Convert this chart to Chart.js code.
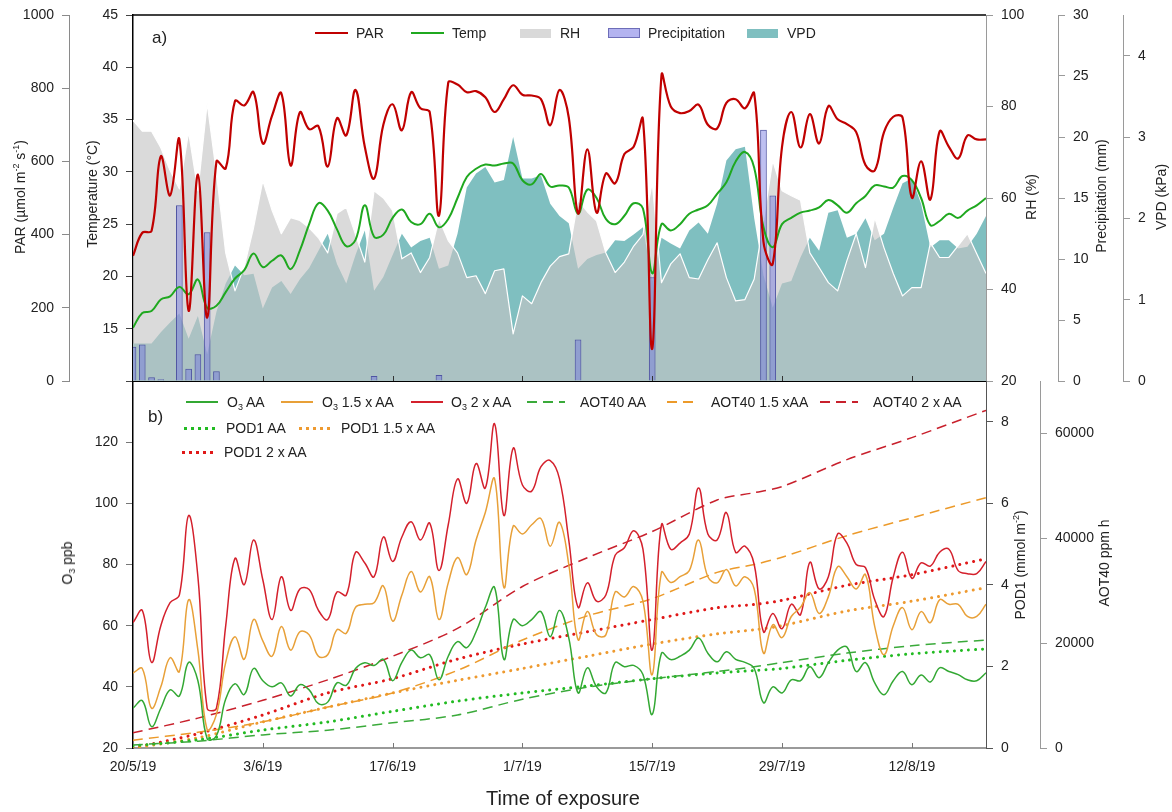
<!DOCTYPE html>
<html>
<head>
<meta charset="utf-8">
<title>Weather conditions and O3 exposure</title>
<script src="https://cdn.jsdelivr.net/npm/chart.js@4.4.1/dist/chart.umd.min.js"></script>
<style>
  body { margin: 0; background: #fff; }
  #wrap { position: relative; width: 1172px; height: 812px; overflow: hidden; font-family: "Liberation Sans", Arial, sans-serif; color: #222; }
  canvas { position: absolute; left: 0; }
  #topChart { top: 0; }
  #bottomChart { top: 381px; }
  .txt { position: absolute; white-space: nowrap; font-size: 14px; line-height: 18px; }
  .rot { transform: translate(-50%, -50%) rotate(-90deg); }
  .sw { position: absolute; box-sizing: border-box; }
  sup { font-size: 9px; vertical-align: 6px; line-height: 0; }
  sub { font-size: 9px; vertical-align: -3px; line-height: 0; }
</style>
</head>
<body>
<div id="wrap">
  <canvas id="topChart" width="1172" height="395"></canvas>
  <canvas id="bottomChart" width="1172" height="431"></canvas>

  <!-- axis titles -->
  <div class="txt rot" style="left:20px;top:197px">PAR (µmol m<sup>-2</sup> s<sup>-1</sup>)</div>
  <div class="txt rot" style="left:92px;top:194px">Temperature (°C)</div>
  <div class="txt rot" style="left:1031px;top:197px">RH (%)</div>
  <div class="txt rot" style="left:1101px;top:196px">Precipitation (mm)</div>
  <div class="txt rot" style="left:1161px;top:197px">VPD (kPa)</div>
  <div class="txt rot" style="left:67px;top:563px">O<sub>3</sub> ppb</div>
  <div class="txt rot" style="left:1020px;top:565px">POD1 (mmol m<sup>-2</sup>)</div>
  <div class="txt rot" style="left:1104px;top:563px">AOT40 ppm h</div>
  <div class="txt" style="left:563px;top:798px;font-size:20px;line-height:24px;transform:translate(-50%,-50%)">Time of exposure</div>

  <div class="txt" style="left:152px;top:28px;font-size:17px;line-height:20px">a)</div>
  <div class="txt" style="left:148px;top:407px;font-size:17px;line-height:20px">b)</div>

  <!-- legend, panel a -->
  <div class="sw" style="left:315px;top:32px;width:33px;height:2px;background:#c00000"></div>
  <div class="txt" style="left:356px;top:24px">PAR</div>
  <div class="sw" style="left:411px;top:32px;width:33px;height:2px;background:#1fa81f"></div>
  <div class="txt" style="left:452px;top:24px">Temp</div>
  <div class="sw" style="left:520px;top:29px;width:31px;height:9px;background:#d9d9d9"></div>
  <div class="txt" style="left:560px;top:24px">RH</div>
  <div class="sw" style="left:608px;top:28px;width:32px;height:10px;background:#b3b3f0;border:1px solid #6d6db8"></div>
  <div class="txt" style="left:648px;top:24px">Precipitation</div>
  <div class="sw" style="left:747px;top:29px;width:31px;height:9px;background:#7fbfc0"></div>
  <div class="txt" style="left:787px;top:24px">VPD</div>

  <!-- legend, panel b -->
  <div class="sw" style="left:186px;top:401px;width:32px;height:1.5px;background:#33a833"></div>
  <div class="txt" style="left:227px;top:393px">O<sub>3</sub> AA</div>
  <div class="sw" style="left:281px;top:401px;width:32px;height:1.5px;background:#e8a038"></div>
  <div class="txt" style="left:322px;top:393px">O<sub>3</sub> 1.5 x AA</div>
  <div class="sw" style="left:411px;top:401px;width:32px;height:1.5px;background:#d4202c"></div>
  <div class="txt" style="left:451px;top:393px">O<sub>3</sub> 2 x AA</div>
  <div class="sw" style="left:527px;top:401px;width:38px;height:1.5px;background:repeating-linear-gradient(90deg,#3aaa3a 0 10px,transparent 10px 16px)"></div>
  <div class="txt" style="left:580px;top:393px">AOT40 AA</div>
  <div class="sw" style="left:667px;top:401px;width:32px;height:1.5px;background:repeating-linear-gradient(90deg,#ec9a2a 0 10px,transparent 10px 16px)"></div>
  <div class="txt" style="left:711px;top:393px">AOT40 1.5 xAA</div>
  <div class="sw" style="left:820px;top:401px;width:38px;height:1.5px;background:repeating-linear-gradient(90deg,#c8202c 0 10px,transparent 10px 16px)"></div>
  <div class="txt" style="left:873px;top:393px">AOT40 2 x AA</div>
  <div class="sw" style="left:184px;top:427px;width:34px;height:3px;background:repeating-linear-gradient(90deg,#22bb22 0 3px,transparent 3px 7px)"></div>
  <div class="txt" style="left:226px;top:419px">POD1 AA</div>
  <div class="sw" style="left:299px;top:427px;width:35px;height:3px;background:repeating-linear-gradient(90deg,#ee9a30 0 3px,transparent 3px 7px)"></div>
  <div class="txt" style="left:341px;top:419px">POD1 1.5 x AA</div>
  <div class="sw" style="left:182px;top:451px;width:34px;height:3px;background:repeating-linear-gradient(90deg,#e01818 0 3px,transparent 3px 7px)"></div>
  <div class="txt" style="left:224px;top:443px">POD1 2 x AA</div>
</div>

<script>
// ---------------------------------------------------------------------
// data: one value per day from 20/5/19 (day 0) to 20/8/19 (day 92)
// ---------------------------------------------------------------------
const xTickDays = [0, 14, 28, 42, 56, 70, 84];
const xTickLabels = ["20/5/19", "3/6/19", "17/6/19", "1/7/19", "15/7/19", "29/7/19", "12/8/19"];

// tick values of every vertical axis
const parTicks = [0, 200, 400, 600, 800, 1000];
const tempTicks = [10, 15, 20, 25, 30, 35, 40, 45];
const rhTicks = [20, 40, 60, 80, 100];
const rainTicks = [0, 5, 10, 15, 20, 25, 30];
const vpdTicks = [0, 1, 2, 3, 4];
const o3Ticks = [20, 40, 60, 80, 100, 120];
const podTicks = [0, 2, 4, 6, 8];
const aotTicks = [0, 20000, 40000, 60000];

// panel a
const par = [342,405,410,614,507,660,192,564,173,600, 581,765,753,789,649,725,786,589,734,688,
  696,586,718,671,795,640,553,700,756,685, 789,745,735,452,815,810,789,792,775,735,
  770,808,782,780,770,699,795,720,458,633, 460,567,540,620,640,715,88,835,750,732,
  738,755,700,690,760,770,745,786,380,320, 640,735,638,729,649,751,715,702,680,590,
  575,680,722,720,501,600,496,682,640,608, 671,660,660];
const temp = [15.1,16.5,16.7,17.8,18.1,19.0,18.3,19.7,17.0,17.2, 18.5,19.8,20.6,22.2,20.9,21.5,22.0,20.7,22.5,25.0,
  27.0,26.3,24.5,22.9,23.5,26.8,23.8,24.0,25.6,26.4, 25.2,25.0,26.0,24.7,25.5,27.5,29.5,30.3,30.7,30.6,
  30.8,30.8,29.2,28.8,29.8,28.6,28.7,28.5,26.0,28.3, 27.5,25.5,25.0,25.8,27.0,26.5,20.3,25.0,24.4,25.0,
  26.0,26.4,26.8,27.9,29.0,31.0,31.9,30.4,24.7,22.8, 25.0,25.6,26.1,26.3,26.6,27.3,26.8,26.1,27.0,27.7,
  28.7,28.6,28.5,29.6,29.2,27.5,24.9,25.3,26.0,25.6, 26.3,26.8,27.5];
const rh = [77,74.6,74.6,71,66,62,74.4,61.6,80.7,65.4, 48,39.7,45,53.5,63.8,57.3,52.2,55.7,55.1,53.5,
  51.3,48,56.6,58,52,46,61.6,60,57.3,46.7, 48,43.7,47,55.5,50.7,48,42.6,43,39.1,44.1,
  44.5,30.3,38.6,36.9,41.5,45.1,47.2,47.8,59.5,57, 55,48,43.7,46,49.5,52,63.4,41.5,45.6,47.8,
  42.6,42.3,46.5,50.2,42.6,37.5,37.8,42.3,55,68.2, 61.6,60.5,59.5,48,44.8,41.5,39.7,46.3,52.2,44.8,
  55.7,49.1,43.5,38.6,40.4,40.4,50.2,47,47,49.6, 52.2,47.8,43.5];
const vpd = [0.46,0.46,0.46,0.6,0.72,0.83,0.52,0.8,0.33,0.85, 1.2,1.42,1.3,1.32,0.89,1.15,1.23,1.07,1.25,1.39,
  1.6,1.81,1.44,1.2,1.55,1.85,1.11,1.28,1.55,1.81, 1.64,1.72,1.76,1.38,1.42,1.81,2.38,2.55,2.63,2.44,
  2.47,3.0,2.49,2.49,2.53,2.18,2.03,1.94,1.38,1.5, 1.55,1.58,1.73,1.72,1.8,1.89,1.23,1.76,1.69,1.63,
  1.85,1.95,1.81,2.18,2.71,2.85,2.88,2.0,1.3,0.9, 1.2,1.23,1.52,1.76,1.6,2.07,2.1,1.76,1.81,2.0,
  1.73,1.81,2.13,2.43,2.49,2.18,1.64,1.73,1.73,1.63, 1.65,1.81,2.03];
const rainDays = [0, 1, 2, 3, 5, 6, 7, 8, 9, 26, 33, 48, 56, 68, 69];
const rainMm = [2.8, 3.0, 0.3, 0.15, 14.4, 1.0, 2.2, 12.2, 0.8, 0.4, 0.5, 3.4, 8.5, 20.6, 15.2];

// panel b, daily ozone
const o3AA = [33,35.5,27,33,39,37,48,42,23,24, 36,41,37.5,46,42,40,41.3,37,40.7,39,
  34.5,35,41.3,40.5,46,47.9,47,49,42,48, 52,49.5,50.5,42.3,50,54.8,52.8,58,66,72.5,
  49,62,60,62,64.6,56.4,65,56,38,46.2, 40,38,47.9,46.6,47,44,31,51,48.9,50,
  52,56,51,48.2,51.5,49,48,46,34.8,40, 38,42.3,42,46.6,43,47.9,52,53,45,47.9,
  41.3,37.4,42,45,40.7,43.9,41.6,46.2,45,44, 42.3,42,44.6];
const o3x15 = [44.5,46,33,40,49.5,45,68.5,52,26,31, 48,56.4,49,62,55,50,59.7,52,58,57,
  50,50.5,58.7,57.5,66,67,67.5,73,61.5,70, 77.7,71,76,62,74,82.3,76.7,88,97,108,
  72.5,92.5,90,93,95,86,93.8,80,55.4,64.6, 57,57,71,69.4,72.8,68,44,77.4,74.1,76,
  78,88,76,74,78.4,73,76,72,51,60.3, 56.1,63,66,70.8,64,69.5,79.3,76,72,76.7,
  59.7,50.5,60,65.9,58.7,64.6,61,68.5,67,67, 63,63,67];
const o3x2 = [61,65,48,60,67.5,70,96,76,33,33, 60,82,73.4,88,75,62,76,65,72,71.8,
  65,62,71,70,84,80.5,76,89,81,89, 94,88,93.5,78,93,108,100,113,105,126,
  96,118,106,104,112,114,108,88,66,74, 68,70,83,85.5,91,85,52,93,85,87,
  90,105,90,88,97,84,86,80,58,64, 59,67,63.6,80.7,72,76,90,87,80,79,
  68.5,63,76,84,75.5,80.5,79.5,84,85,78, 77,77,81];

// panel b, cumulative indices read every week
const cumDays = [0, 7, 14, 21, 28, 35, 42, 49, 56, 63, 67, 70, 77, 84, 92];
const aotAA = [570, 1300, 2500, 3400, 4800, 6300, 9300, 11600, 13200, 14600, 15500, 16300, 18100, 19500, 20600];
const aotX15 = [1500, 3000, 5000, 7800, 10500, 14800, 20600, 25200, 28500, 33500, 35000, 36400, 40500, 43900, 47750];
const aotX2 = [2900, 5700, 9100, 13000, 17500, 22800, 30800, 36300, 41300, 47300, 48700, 49850, 55000, 59200, 64400];
const podAA = [0.05, 0.2, 0.44, 0.64, 0.9, 1.15, 1.35, 1.52, 1.7, 1.84, 1.9, 1.95, 2.15, 2.31, 2.43];
const podX15 = [0, 0.25, 0.64, 1.0, 1.35, 1.66, 1.95, 2.25, 2.55, 2.8, 2.9, 3.0, 3.36, 3.6, 3.93];
const podX2 = [0, 0.35, 0.81, 1.35, 1.7, 2.18, 2.55, 2.85, 3.15, 3.44, 3.52, 3.62, 3.99, 4.25, 4.64];

// ---------------------------------------------------------------------
const FONT = '"Liberation Sans", Arial, sans-serif';
Chart.defaults.font.family = FONT;
Chart.defaults.font.size = 14;
Chart.defaults.color = "#222";

const daily = vals => vals.map((v, i) => ({ x: i, y: v }));
const sampled = (days, vals) => days.map((d, i) => ({ x: d, y: vals[i] }));

// one vertical axis with a fixed box width so the plot areas line up
function sideAxis(o) {
    return {
        position: o.pos, weight: o.weight, min: o.min, max: o.max,
        afterBuildTicks: s => { s.ticks = o.ticks.map(v => ({ value: v })); },
        afterFit: s => { s.width = o.width; s.paddingTop = 0; s.paddingBottom = 0; },
        ticks: { padding: 8, color: "#222", autoSkip: false, callback: o.fmt || (v => String(v)) },
        grid: { drawOnChartArea: false, tickLength: 7, tickColor: o.tick || o.line },
        border: { color: o.line, width: o.lineWidth || 1 }
    };
}

function xAxis(showLabels, height, color, width) {
    return {
        type: "linear", position: "bottom", min: 0, max: 92, offset: false,
        afterBuildTicks: s => { s.ticks = xTickDays.map(v => ({ value: v })); },
        afterFit: s => { s.height = height; s.paddingLeft = 0; s.paddingRight = 0; },
        ticks: { display: showLabels, padding: 11, maxRotation: 0, autoSkip: false, callback: v => xTickLabels[xTickDays.indexOf(v)] },
        grid: { drawOnChartArea: false, drawTicks: false },
        border: { color, width }
    };
}

// small tick marks pointing into the plot, plus the top frame of panel a
const innerTicks = {
    id: "innerTicks",
    afterDraw(chart, args, opts) {
        const { ctx, chartArea, scales } = chart;
        ctx.save();
        ctx.strokeStyle = opts.color || "#555";
        ctx.lineWidth = 1;
        xTickDays.slice(1).forEach(d => {
            const px = Math.round(scales.x.getPixelForValue(d)) + 0.5;
            ctx.beginPath(); ctx.moveTo(px, chartArea.bottom); ctx.lineTo(px, chartArea.bottom - 5); ctx.stroke();
        });
        if (opts.frameTop) {
            ctx.strokeStyle = "#000"; ctx.lineWidth = 1.5;
            ctx.beginPath(); ctx.moveTo(chartArea.left, chartArea.top); ctx.lineTo(chartArea.right, chartArea.top); ctx.stroke();
        }
        ctx.restore();
    }
};

const common = { responsive: false, maintainAspectRatio: false, animation: false, events: [], devicePixelRatio: 1 };
const lineStyle = { pointRadius: 0, borderJoinStyle: "round" };

new Chart(document.getElementById("topChart"), {
    type: "line",
    data: {
        datasets: [
            { ...lineStyle, label: "PAR", data: daily(par), yAxisID: "yPar", borderColor: "#c00000", borderWidth: 2.2, tension: 0.4, order: 1 },
            { ...lineStyle, label: "Temp", data: daily(temp), yAxisID: "yTemp", borderColor: "#1fa81f", borderWidth: 2, tension: 0.4, order: 2 },
            { type: "bar", label: "Precipitation", data: sampled(rainDays, rainMm), yAxisID: "yRain", backgroundColor: "rgba(110,115,225,0.45)", borderColor: "#4f54a3", borderWidth: 1, order: 3 },
            { ...lineStyle, label: "RH", data: daily(rh), yAxisID: "yRh", fill: "start", backgroundColor: "rgba(197,197,197,0.63)", borderColor: "#ffffff", borderWidth: 1.2, tension: 0, order: 4 },
            { ...lineStyle, label: "VPD", data: daily(vpd), yAxisID: "yVpd", fill: "start", backgroundColor: "#7fbfc0", borderColor: "rgba(0,0,0,0)", borderWidth: 0, tension: 0, order: 5 }
        ]
    },
    options: {
        ...common,
        layout: { padding: { top: 15, bottom: 14, left: 0, right: 0 } },
        plugins: { legend: { display: false }, tooltip: { enabled: false }, innerTicks: { color: "#333", frameTop: true } },
        scales: {
            x: xAxis(false, 0, "#000", 2),
            yPar: sideAxis({ pos: "left", weight: 2, width: 69, min: 0, max: 1000, ticks: parTicks, line: "#8a8a8a" }),
            yTemp: sideAxis({ pos: "left", weight: 1, width: 64, min: 10, max: 45, ticks: tempTicks, line: "#000", tick: "#444", lineWidth: 1.5, fmt: v => (v === 10 ? "" : String(v)) }),
            yRh: sideAxis({ pos: "right", weight: 1, width: 72, min: 20, max: 100, ticks: rhTicks, line: "#9a9a9a" }),
            yRain: sideAxis({ pos: "right", weight: 2, width: 65, min: 0, max: 30, ticks: rainTicks, line: "#9a9a9a" }),
            yVpd: sideAxis({ pos: "right", weight: 3, width: 49, min: 0, max: 4.5, ticks: vpdTicks, line: "#9a9a9a" })
        }
    },
    plugins: [innerTicks]
});

const dashed = { borderDash: [10, 6], borderWidth: 1.5, tension: 0.3 };
const dotted = { borderDash: [0.01, 7], borderCapStyle: "round", borderWidth: 3, tension: 0.3 };

new Chart(document.getElementById("bottomChart"), {
    type: "line",
    data: {
        datasets: [
            { ...lineStyle, label: "O3 AA", data: daily(o3AA), yAxisID: "yO3", borderColor: "#33a833", borderWidth: 1.5, tension: 0.4 },
            { ...lineStyle, label: "O3 1.5 x AA", data: daily(o3x15), yAxisID: "yO3", borderColor: "#e8a038", borderWidth: 1.5, tension: 0.4 },
            { ...lineStyle, label: "O3 2 x AA", data: daily(o3x2), yAxisID: "yO3", borderColor: "#d4202c", borderWidth: 1.5, tension: 0.4 },
            { ...lineStyle, ...dashed, label: "AOT40 AA", data: sampled(cumDays, aotAA), yAxisID: "yAot", borderColor: "#3aaa3a" },
            { ...lineStyle, ...dashed, label: "AOT40 1.5 xAA", data: sampled(cumDays, aotX15), yAxisID: "yAot", borderColor: "#ec9a2a" },
            { ...lineStyle, ...dashed, label: "AOT40 2 x AA", data: sampled(cumDays, aotX2), yAxisID: "yAot", borderColor: "#c8202c" },
            { ...lineStyle, ...dotted, label: "POD1 AA", data: sampled(cumDays, podAA), yAxisID: "yPod", borderColor: "#22bb22" },
            { ...lineStyle, ...dotted, label: "POD1 1.5 x AA", data: sampled(cumDays, podX15), yAxisID: "yPod", borderColor: "#ee9a30" },
            { ...lineStyle, ...dotted, label: "POD1 2 x AA", data: sampled(cumDays, podX2), yAxisID: "yPod", borderColor: "#e01818" }
        ]
    },
    options: {
        ...common,
        layout: { padding: { top: 0, bottom: 0, left: 0, right: 57 } },
        plugins: { legend: { display: false }, tooltip: { enabled: false }, innerTicks: { color: "#777" } },
        scales: {
            x: xAxis(true, 64, "#9a9a9a", 2),
            yO3: sideAxis({ pos: "left", weight: 1, width: 133, min: 20, max: 140, ticks: o3Ticks, line: "#000", tick: "#777", lineWidth: 1.5 }),
            yPod: sideAxis({ pos: "right", weight: 1, width: 54, min: 0, max: 9, ticks: podTicks, line: "#555" }),
            yAot: sideAxis({ pos: "right", weight: 2, width: 75, min: 0, max: 70000, ticks: aotTicks, line: "#9a9a9a" })
        }
    },
    plugins: [innerTicks]
});
</script>
</body>
</html>
